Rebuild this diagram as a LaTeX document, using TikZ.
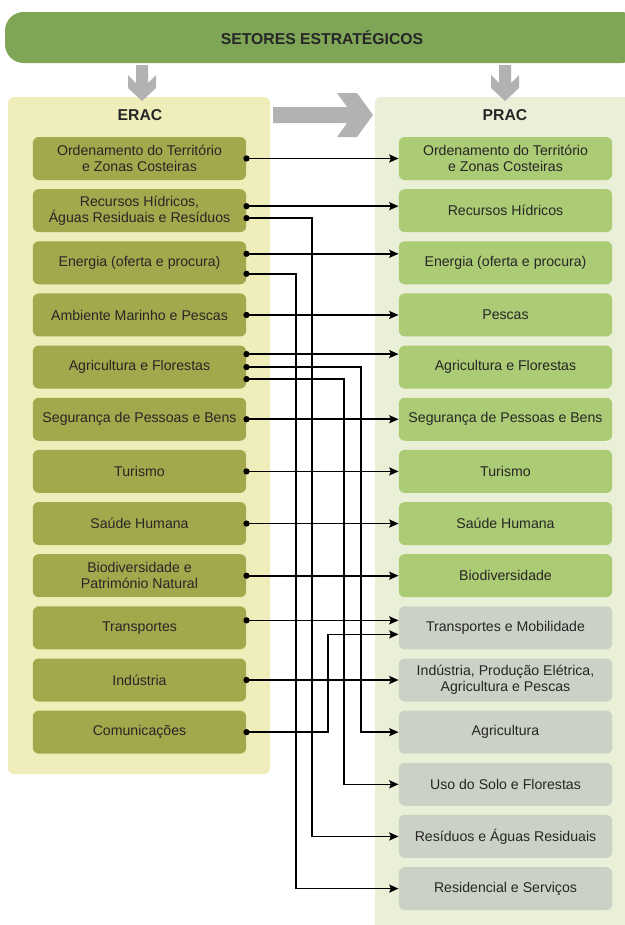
\documentclass[tikz,border=0pt]{standalone}
\usepackage{fontspec}
\setmainfont{Liberation Sans}
\usetikzlibrary{arrows.meta,calc}
\definecolor{bannerc}{HTML}{7FA557}
\definecolor{epanel}{HTML}{EFEDB9}
\definecolor{eboxc}{HTML}{A4A84C}
\definecolor{ppanel}{HTML}{EAEFD7}
\definecolor{pgreen}{HTML}{ABCB74}
\definecolor{pgray}{HTML}{CCD1C5}
\definecolor{garrow}{HTML}{B2B2B2}
\definecolor{txt}{HTML}{262626}
\begin{document}
\begin{tikzpicture}[x=0.75pt,y=-0.75pt,
  ebox/.style={draw=none,fill=eboxc,rounded corners=4.5pt,minimum width=160pt,minimum height=32.25pt,align=center,font=\fontsize{10.6}{12}\selectfont,text=txt,inner sep=0pt},
  pbox/.style={ebox,fill=pgreen},
  gbox/.style={ebox,fill=pgray},
  head/.style={font=\fontsize{11.8}{13}\selectfont\bfseries,text=txt},
  conn/.style={line width=1.2pt,{Circle[length=4.6pt]}-{Stealth[length=7pt,width=6pt,inset=1.2pt]}},
  gar/.style={fill=garrow,draw=none}
]
\useasboundingbox (0,0) rectangle (625,925);
\clip (0,0) rectangle (625,925);
% banner
\fill[bannerc,rounded corners=14pt] (5,12) rectangle (640,63);
\node[head] (title) at (322,38) {SETORES ESTRATÉGICOS};
% panels
\fill[epanel,rounded corners=4.5pt] (8,97) rectangle (270,774);
\fill[ppanel,rounded corners=4.5pt] (375,97) rectangle (640,945);
\node[head] (erac) at (140,115) {ERAC};
\node[head] (prac) at (505,115) {PRAC};
% gray arrows
\foreach \cx in {142,505}{
  \fill[gar] (\cx-6,65) -- (\cx+6,65) -- (\cx+6,83) -- (\cx+14,75) -- (\cx+14,88) -- (\cx,101) -- (\cx-14,88) -- (\cx-14,75) -- (\cx-6,83) -- cycle;
}
\fill[gar] (273,107) -- (347.2,107) -- (337,93) -- (357,93) -- (373,115) -- (357,137) -- (337,137) -- (347.2,123) -- (273,123) -- cycle;
% ERAC boxes
\node[ebox] (e1) at (139.5,158.5) {Ordenamento do Território\\e Zonas Costeiras};
\node[ebox] (e2) at (139.5,210.65) {Recursos Hídricos,\\Águas Residuais e Resíduos};
\node[ebox] (e3) at (139.5,262.8) {Energia (oferta e procura)};
\node[ebox] (e4) at (139.5,314.95) {Ambiente Marinho e Pescas};
\node[ebox] (e5) at (139.5,367.1) {Agricultura e Florestas};
\node[ebox] (e6) at (139.5,419.25) {Segurança de Pessoas e Bens};
\node[ebox] (e7) at (139.5,471.4) {Turismo};
\node[ebox] (e8) at (139.5,523.55) {Saúde Humana};
\node[ebox] (e9) at (139.5,575.7) {Biodiversidade e\\Património Natural};
\node[ebox] (e10) at (139.5,627.85) {Transportes};
\node[ebox] (e11) at (139.5,680.0) {Indústria};
\node[ebox] (e12) at (139.5,732.15) {Comunicações};
% PRAC boxes
\node[pbox] (p1) at (505.5,158.5) {Ordenamento do Território\\e Zonas Costeiras};
\node[pbox] (p2) at (505.5,210.65) {Recursos Hídricos};
\node[pbox] (p3) at (505.5,262.8) {Energia (oferta e procura)};
\node[pbox] (p4) at (505.5,314.95) {Pescas};
\node[pbox] (p5) at (505.5,367.1) {Agricultura e Florestas};
\node[pbox] (p6) at (505.5,419.25) {Segurança de Pessoas e Bens};
\node[pbox] (p7) at (505.5,471.4) {Turismo};
\node[pbox] (p8) at (505.5,523.55) {Saúde Humana};
\node[pbox] (p9) at (505.5,575.7) {Biodiversidade};
\node[gbox] (p10) at (505.5,627.85) {Transportes e Mobilidade};
\node[gbox] (p11) at (505.5,680.0) {Indústria, Produção Elétrica,\\Agricultura e Pescas};
\node[gbox] (p12) at (505.5,732.15) {Agricultura};
\node[gbox] (p13) at (505.5,784.3) {Uso do Solo e Florestas};
\node[gbox] (p14) at (505.5,836.45) {Resíduos e Águas Residuais};
\node[gbox] (p15) at (505.5,888.6) {Residencial e Serviços};
% vertical routing columns
\coordinate (v1) at (296,0);
\coordinate (v2) at (312,0);
\coordinate (v3) at (328,0);
\coordinate (v4) at (344,0);
\coordinate (v5) at (361,0);
% start points
\coordinate (s1) at ($(e1.east)+(-3,0)$);
\coordinate (s2a) at ($(e2.east)+(-3,-4.5)$);
\coordinate (s2b) at ($(e2.east)+(-3,7.5)$);
\coordinate (s3a) at ($(e3.east)+(-3,-9)$);
\coordinate (s3b) at ($(e3.east)+(-3,11)$);
\coordinate (s4) at ($(e4.east)+(-3,0)$);
\coordinate (s5a) at ($(e5.east)+(-3,-13)$);
\coordinate (s5b) at ($(e5.east)+(-3,0)$);
\coordinate (s5c) at ($(e5.east)+(-3,12)$);
\coordinate (s6) at ($(e6.east)+(-3,0)$);
\coordinate (s7) at ($(e7.east)+(-3,0)$);
\coordinate (s8) at ($(e8.east)+(-3,0)$);
\coordinate (s9) at ($(e9.east)+(-3,0)$);
\coordinate (s10) at ($(e10.east)+(-3,-7.5)$);
\coordinate (s11) at ($(e11.east)+(-3,0)$);
\coordinate (s12) at ($(e12.east)+(-3,0)$);
\coordinate (t10b) at ($(p10.west)+(0,6.5)$);
% connectors
\draw[conn] (s1) -- (s1 -| p1.west);
\draw[conn] (s2a) -- (s2a -| p2.west);
\draw[conn] (s3a) -- (s3a -| p3.west);
\draw[conn] (s4) -- (s4 -| p4.west);
\draw[conn] (s5a) -- (s5a -| p5.west);
\draw[conn] (s6) -- (s6 -| p6.west);
\draw[conn] (s7) -- (s7 -| p7.west);
\draw[conn] (s8) -- (s8 -| p8.west);
\draw[conn] (s9) -- (s9 -| p9.west);
\draw[conn] (s10) -- (s10 -| p10.west);
\draw[conn] (s11) -- (s11 -| p11.west);
\draw[conn] (s12) -- (s12 -| v3) -- (v3 |- t10b) -- (t10b);
\draw[conn] (s5b) -- (s5b -| v5) -- (v5 |- p12.west) -- (p12.west);
\draw[conn] (s5c) -- (s5c -| v4) -- (v4 |- p13.west) -- (p13.west);
\draw[conn] (s2b) -- (s2b -| v2) -- (v2 |- p14.west) -- (p14.west);
\draw[conn] (s3b) -- (s3b -| v1) -- (v1 |- p15.west) -- (p15.west);
\end{tikzpicture}
\end{document}
